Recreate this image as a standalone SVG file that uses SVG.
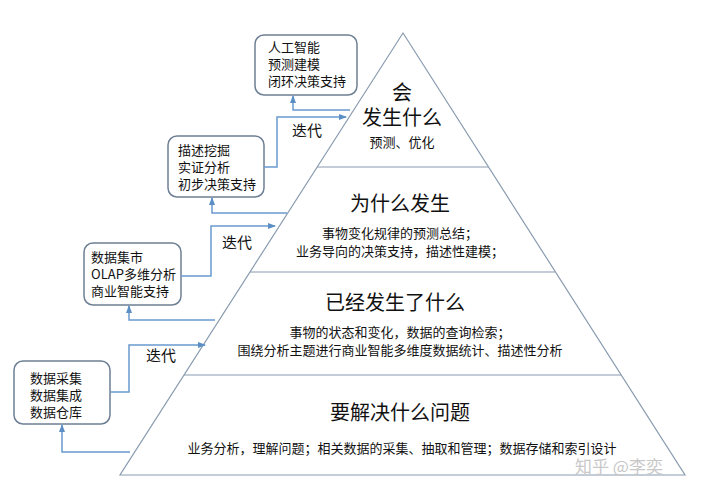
<svg xmlns="http://www.w3.org/2000/svg" width="702" height="500" viewBox="0 0 702 500">
<defs>
<marker id="ar" markerWidth="8" markerHeight="8" refX="7" refY="4" orient="auto" markerUnits="userSpaceOnUse"><path d="M0,1 L8,4 L0,7 Z" fill="#5b8ec4"/></marker>
<style>
text{font-family:"Noto Sans CJK SC","Noto Sans",sans-serif;fill:#111}
.b{fill:#fff;stroke:#6d7f94;stroke-width:1.5}
.c{fill:none;stroke:#6a9bd0;stroke-width:1.5;marker-end:url(#ar)}
.t{font-size:13px}
.h{font-size:20px;text-anchor:middle}
.s{font-size:13px;text-anchor:middle}
</style>
</defs>
<rect width="702" height="500" fill="#fff"/>
<g id="pyramid" fill="none" stroke="#8a9cb0" stroke-width="1.2">
<polygon points="403,33 685,475 120,475"/>
<line x1="317" y1="167" x2="488" y2="167"/>
<line x1="250" y1="272" x2="555" y2="272"/>
<line x1="184" y1="375" x2="621" y2="375"/>
</g>
<g id="level4"><text class="h" x="402" y="100">会</text><text class="h" x="402" y="125">发生什么</text><text class="s" x="402" y="147">预测、优化</text></g>
<g id="level3"><text class="h" x="400" y="211">为什么发生</text><text class="s" x="400" y="238">事物变化规律的预测总结；</text><text class="s" x="400" y="256">业务导向的决策支持，描述性建模；</text></g>
<g id="level2"><text class="h" x="395" y="310">已经发生了什么</text><text class="s" x="400" y="337">事物的状态和变化，数据的查询检索；</text><text class="s" x="400" y="355">围绕分析主题进行商业智能多维度数据统计、描述性分析</text></g>
<g id="level1"><text class="h" x="400" y="420">要解决什么问题</text><text class="s" x="402" y="453">业务分析，理解问题；相关数据的采集、抽取和管理；数据存储和索引设计</text></g>
<g id="box1"><rect class="b" x="255" y="35" width="102" height="60" rx="9"/><text class="t" x="268" y="52">人工智能</text><text class="t" x="268" y="69">预测建模</text><text class="t" x="268" y="86">闭环决策支持</text></g>
<g id="box2"><rect class="b" x="168" y="136" width="96" height="61" rx="9"/><text class="t" x="178" y="155">描述挖掘</text><text class="t" x="178" y="172">实证分析</text><text class="t" x="178" y="189">初步决策支持</text></g>
<g id="box3"><rect class="b" x="84" y="243" width="97" height="62" rx="9"/><text class="t" x="91" y="262">数据集市</text><text class="t" x="91" y="279">OLAP多维分析</text><text class="t" x="91" y="296">商业智能支持</text></g>
<g id="box4"><rect class="b" x="14" y="361" width="96" height="63" rx="9"/><text class="t" x="30" y="383">数据采集</text><text class="t" x="30" y="400">数据集成</text><text class="t" x="30" y="417">数据仓库</text></g>
<g id="connectors">
<polyline class="c" points="350,110 293,110 293,96"/>
<polyline class="c" points="264,167 277,167 277,117 346,117"/>
<polyline class="c" points="287,213 212,213 212,198"/>
<polyline class="c" points="181,276 211,276 211,226 275,226"/>
<polyline class="c" points="215,320 129,320 129,306"/>
<polyline class="c" points="110,392 129,392 129,345 205,345"/>
<polyline class="c" points="130,452 62,452 62,425"/>
<text x="292" y="136" font-size="15">迭代</text>
<text x="222" y="248" font-size="15">迭代</text>
<text x="146" y="361" font-size="15">迭代</text>
</g>
<text x="575" y="473" font-size="17" style="fill:#c8c8c8">知乎 @李奕</text>
</svg>
